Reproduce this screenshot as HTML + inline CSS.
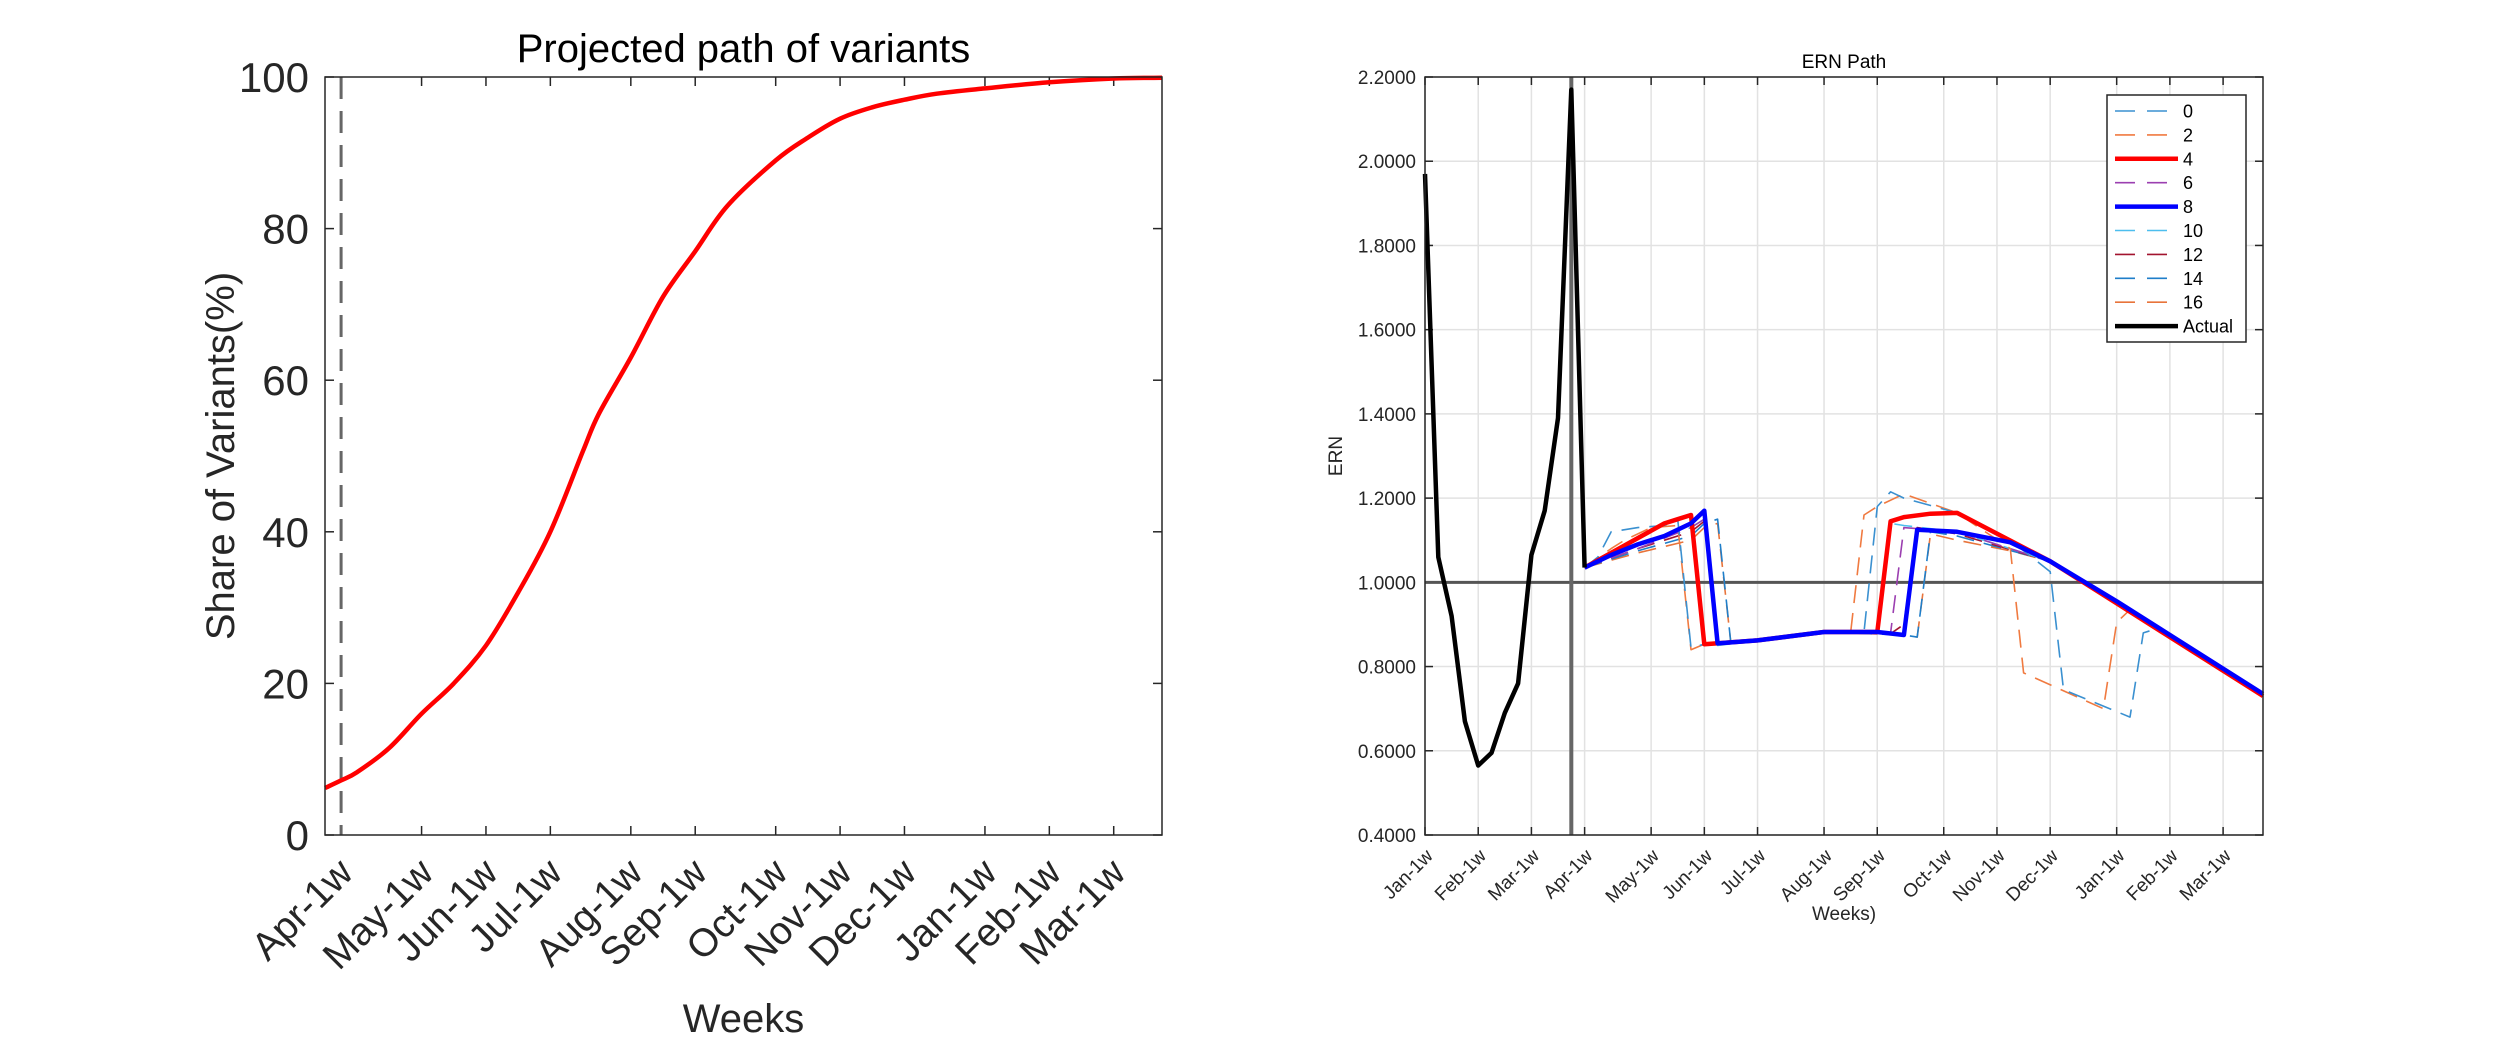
<!DOCTYPE html>
<html><head><meta charset="utf-8"><style>
html,body{margin:0;padding:0;background:#fff;}
svg{display:block;font-family:"Liberation Sans",Arial,sans-serif;}
</style></head><body>
<svg id="chart" width="2500" height="1042" viewBox="0 0 2500 1042" xmlns="http://www.w3.org/2000/svg">
<rect width="2500" height="1042" fill="#fff"/>
<g id="left"></g>
<g id="right"></g>
</svg>
<script>
// ---- Left chart data ----
const leftMonths = ["Apr-1w","May-1w","Jun-1w","Jul-1w","Aug-1w","Sep-1w","Oct-1w","Nov-1w","Dec-1w","Jan-1w","Feb-1w","Mar-1w"];
const leftMonthWeeks = [1,6,10,14,19,23,28,32,36,41,45,49];
const leftYTicks = [0,20,40,60,80,100];
const shareWeeks = [0,1,2,4,6,8,10,12,14,16,17,19,21,23,25,28,30,32,34,36,38,41,45,49,52];
const shareValues = [6.2,7.2,8.3,11.5,16,20,25,32,40,50.5,55.5,63,71,77,83,89,92,94.5,96,97,97.8,98.5,99.3,99.8,99.9];
const dashedWeek = 1;

// ---- Right chart data ----
const rightMonths = ["Jan-1w","Feb-1w","Mar-1w","Apr-1w","May-1w","Jun-1w","Jul-1w","Aug-1w","Sep-1w","Oct-1w","Nov-1w","Dec-1w","Jan-1w","Feb-1w","Mar-1w"];
const rightMonthWeeks = [0,4,8,12,17,21,25,30,34,39,43,47,52,56,60];
const rightYTicks = [0.4,0.6,0.8,1.0,1.2,1.4,1.6,1.8,2.0,2.2];
const actualWeeks = [0,1,2,3,4,5,6,7,8,9,10,11,12];
const actualValues = [1.97,1.06,0.92,0.67,0.565,0.595,0.69,0.76,1.065,1.17,1.39,2.17,1.035];
const s0Weeks = [12,13,14,16,18,19,20,21,25,30,33,34,35,36,40,44,47,48,53,54,55,63];
const s0Values = [1.035,1.06,1.12,1.13,1.135,1.15,0.845,0.853,0.862,0.882,0.882,1.18,1.215,1.2,1.165,1.1,1.025,0.745,0.68,0.88,0.89,0.73];
const s2Weeks = [12,14,15,17,19,20,21,25,30,32,33,34,36,40,44,45,51,52,53,63];
const s2Values = [1.035,1.08,1.1,1.13,1.135,0.84,0.853,0.862,0.882,0.882,1.16,1.18,1.21,1.165,1.08,0.785,0.70,0.905,0.935,0.73];
const s4Weeks = [12,14,16,18,19,20,21,25,30,34,35,36,38,40,47,52,63];
const s4Values = [1.035,1.07,1.105,1.14,1.15,1.16,0.853,0.862,0.882,0.882,1.145,1.155,1.163,1.165,1.05,0.95,0.73];
const s6Weeks = [12,16,20,21,22,25,30,35,36,40,47,52,63];
const s6Values = [1.035,1.08,1.13,1.15,0.855,0.862,0.882,0.88,1.13,1.12,1.05,0.955,0.732];
const s8Weeks = [12,14,16,18,20,21,22,25,30,34,36,37,40,44,47,52,63];
const s8Values = [1.035,1.065,1.09,1.11,1.14,1.17,0.855,0.862,0.882,0.882,0.875,1.125,1.12,1.095,1.05,0.955,0.735];
const s10Weeks = [12,13,16,20,21,22,25,30,34,35,36,40,47,63];
const s10Values = [1.035,1.06,1.09,1.13,1.15,0.85,0.862,0.882,0.88,1.14,1.135,1.12,1.05,0.732];
const s12Weeks = [12,16,20,21,22,25,30,35,36,37,40,47,63];
const s12Values = [1.035,1.08,1.12,1.145,0.855,0.862,0.882,0.878,0.9,1.13,1.115,1.05,0.732];
const s14Weeks = [12,16,20,21,22,23,25,30,36,37,38,40,47,63];
const s14Values = [1.035,1.075,1.11,1.14,1.15,0.855,0.862,0.882,0.875,0.87,1.12,1.11,1.05,0.732];
const s16Weeks = [12,16,20,21,22,23,25,30,36,37,38,40,44,47,63];
const s16Values = [1.035,1.07,1.1,1.13,1.14,0.855,0.862,0.882,0.875,0.87,1.115,1.1,1.075,1.05,0.732];
const legendLabels = ["0","2","4","6","8","10","12","14","16","Actual"];

const NS = "http://www.w3.org/2000/svg";
function mk(parent, tag, attrs, text) {
  const e = document.createElementNS(NS, tag);
  for (const k in attrs) e.setAttribute(k, attrs[k]);
  if (text !== undefined) e.textContent = text;
  parent.appendChild(e);
  return e;
}

// ---------- LEFT ----------
(function(){
  const g = document.getElementById('left');
  const L = 325, R = 1162, T = 77, B = 835;
  const xs = w => L + (w / 52) * (R - L);
  const ys = v => B - (v / 100) * (B - T);
  const t = mk(g, 'text', {x: (L+R)/2, y: 62, 'font-size': 40, 'text-anchor': 'middle', fill: '#000'}, 'Projected path of variants');
  
  
  leftYTicks.forEach(v => {
    const y = ys(v);
    const lb = mk(g, 'text', {x: 309, y: y + 15, 'font-size': 42, 'text-anchor': 'end', fill: '#262626'}, String(v));
    
    
    mk(g, 'line', {x1: L, x2: L + 9, y1: y, y2: y, stroke: '#262626', 'stroke-width': 1.5});
    mk(g, 'line', {x1: R, x2: R - 9, y1: y, y2: y, stroke: '#262626', 'stroke-width': 1.5});
  });
  leftMonths.forEach((m, i) => {
    const x = xs(leftMonthWeeks[i]);
    mk(g, 'line', {x1: x, x2: x, y1: B, y2: B - 9, stroke: '#262626', 'stroke-width': 1.5});
    mk(g, 'line', {x1: x, x2: x, y1: T, y2: T + 9, stroke: '#262626', 'stroke-width': 1.5});
    const ax = x + 14, ay = B + 40;
    const lb = mk(g, 'text', {x: ax, y: ay, 'font-size': 39, 'text-anchor': 'end', fill: '#262626', transform: `rotate(-45 ${ax} ${ay})`}, m);
    
    
  });
  const yl = mk(g, 'text', {x: 0, y: 0, 'font-size': 40, 'text-anchor': 'middle', fill: '#262626', transform: `translate(234 ${(T+B)/2}) rotate(-90)`}, 'Share of Variants(%)');
  
  
  const xl = mk(g, 'text', {x: (L+R)/2, y: 1032, 'font-size': 40, 'text-anchor': 'middle', fill: '#262626'}, 'Weeks');
  
  
  const dl = mk(g, 'line', {x1: xs(dashedWeek), x2: xs(dashedWeek), y1: T, y2: B, stroke: '#666', 'stroke-width': 3, 'stroke-dasharray': '22 12'});
  
  
  // smooth Catmull-Rom path
  const P = shareWeeks.map((w, i) => [xs(w), ys(shareValues[i])]);
  let d = 'M' + P[0][0].toFixed(1) + ',' + P[0][1].toFixed(1);
  for (let i = 0; i < P.length - 1; i++) {
    const p0 = P[Math.max(0, i - 1)], p1 = P[i], p2 = P[i + 1], p3 = P[Math.min(P.length - 1, i + 2)];
    const c1 = [p1[0] + (p2[0] - p0[0]) / 6, p1[1] + (p2[1] - p0[1]) / 6];
    const c2 = [p2[0] - (p3[0] - p1[0]) / 6, p2[1] - (p3[1] - p1[1]) / 6];
    d += ` C${c1[0].toFixed(1)},${c1[1].toFixed(1)} ${c2[0].toFixed(1)},${c2[1].toFixed(1)} ${p2[0].toFixed(1)},${p2[1].toFixed(1)}`;
  }
  const pl = mk(g, 'path', {d: d, fill: 'none', stroke: '#ff0000', 'stroke-width': 4.5, 'stroke-linejoin': 'round'});
  
  
  const box = mk(g, 'rect', {x: L, y: T, width: R - L, height: B - T, fill: 'none', stroke: '#262626', 'stroke-width': 1.5});
  
  
})();

// ---------- RIGHT ----------
(function(){
  const g = document.getElementById('right');
  const L = 1425, R = 2263, T = 77, B = 835;
  const xs = w => L + (w / 63) * (R - L);
  const ys = v => B - ((v - 0.4) / 1.8) * (B - T);
  rightYTicks.forEach(v => {
    const y = ys(v);
    mk(g, 'line', {x1: L, x2: R, y1: y, y2: y, stroke: '#e2e2e2', 'stroke-width': 1.5});
  });
  rightMonthWeeks.forEach(w => {
    const x = xs(w);
    mk(g, 'line', {x1: x, x2: x, y1: T, y2: B, stroke: '#e2e2e2', 'stroke-width': 1.5});
  });
  const t = mk(g, 'text', {x: (L+R)/2, y: 68, 'font-size': 19, 'text-anchor': 'middle', fill: '#000'}, 'ERN Path');
  
  
  rightYTicks.forEach(v => {
    const y = ys(v);
    const lb = mk(g, 'text', {x: 1416, y: y + 7, 'font-size': 19, 'text-anchor': 'end', fill: '#262626'}, v.toFixed(4));
    
    
    mk(g, 'line', {x1: L, x2: L + 8, y1: y, y2: y, stroke: '#262626', 'stroke-width': 1.5});
    mk(g, 'line', {x1: R, x2: R - 8, y1: y, y2: y, stroke: '#262626', 'stroke-width': 1.5});
  });
  rightMonths.forEach((m, i) => {
    const x = xs(rightMonthWeeks[i]);
    mk(g, 'line', {x1: x, x2: x, y1: B, y2: B - 8, stroke: '#262626', 'stroke-width': 1.5});
    mk(g, 'line', {x1: x, x2: x, y1: T, y2: T + 8, stroke: '#262626', 'stroke-width': 1.5});
    const ax = x + 9, ay = B + 22;
    const lb = mk(g, 'text', {x: ax, y: ay, 'font-size': 19, 'text-anchor': 'end', fill: '#262626', transform: `rotate(-45 ${ax} ${ay})`}, m);
    
    
  });
  const yl = mk(g, 'text', {x: 0, y: 0, 'font-size': 19, 'text-anchor': 'middle', fill: '#262626', transform: `translate(1342 ${ys(1.3)}) rotate(-90)`}, 'ERN');
  
  
  const xl = mk(g, 'text', {x: (L+R)/2, y: 920, 'font-size': 19, 'text-anchor': 'middle', fill: '#262626'}, 'Weeks)');
  
  
  const hl = mk(g, 'line', {x1: L, x2: R, y1: ys(1.0), y2: ys(1.0), stroke: '#555', 'stroke-width': 3});
  
  
  const vl = mk(g, 'line', {x1: xs(11), x2: xs(11), y1: T, y2: B, stroke: '#666', 'stroke-width': 4});
  
  

  function series(weeks, vals, color, width, dash, name) {
    const pts = weeks.map((w, i) => xs(w).toFixed(1) + ',' + ys(vals[i]).toFixed(1)).join(' ');
    const a = {points: pts, fill: 'none', stroke: color, 'stroke-width': width, 'stroke-linejoin': 'round'};
    if (dash) a['stroke-dasharray'] = '18 10';
    const p = mk(g, 'polyline', a);
    
    
  }
  series(s16Weeks, s16Values, '#E8743B', 1.6, true, 'series-16');
  series(s14Weeks, s14Values, '#1F7EC9', 1.6, true, 'series-14');
  series(s12Weeks, s12Values, '#A2142F', 1.6, true, 'series-12');
  series(s10Weeks, s10Values, '#4DBEEE', 1.6, true, 'series-10');
  series(s6Weeks, s6Values, '#9B3FB0', 1.6, true, 'series-6');
  series(s2Weeks, s2Values, '#F07A40', 1.6, true, 'series-2');
  series(s0Weeks, s0Values, '#3A90D0', 1.6, true, 'series-0');
  series(s4Weeks, s4Values, '#ff0000', 4.5, false, 'series-4');
  series(s8Weeks, s8Values, '#0000ff', 4.5, false, 'series-8');
  series(actualWeeks, actualValues, '#000000', 4.5, false, 'series-actual');

  const box = mk(g, 'rect', {x: L, y: T, width: R - L, height: B - T, fill: 'none', stroke: '#262626', 'stroke-width': 1.5});
  
  

  const lg = mk(g, 'g', {});
  
  
  mk(lg, 'rect', {x: 2107, y: 95, width: 139, height: 247, fill: '#fff', stroke: '#262626', 'stroke-width': 1.5});
  const lColors = ['#3A90D0','#F07A40','#ff0000','#9B3FB0','#0000ff','#4DBEEE','#A2142F','#1F7EC9','#E8743B','#000000'];
  const lSolid = [false,false,true,false,true,false,false,false,false,true];
  legendLabels.forEach((lab, i) => {
    const y = 111 + i * 23.9;
    const e = mk(lg, 'g', {});
    
    
    if (lSolid[i]) {
      mk(e, 'line', {x1: 2115, x2: 2178, y1: y, y2: y, stroke: lColors[i], 'stroke-width': 4.5});
    } else {
      mk(e, 'line', {x1: 2115, x2: 2135, y1: y, y2: y, stroke: lColors[i], 'stroke-width': 1.6});
      mk(e, 'line', {x1: 2147, x2: 2167, y1: y, y2: y, stroke: lColors[i], 'stroke-width': 1.6});
    }
    mk(e, 'text', {x: 2183, y: y + 6.5, 'font-size': 18, fill: '#000'}, lab);
  });
})();
</script>
</body></html>
